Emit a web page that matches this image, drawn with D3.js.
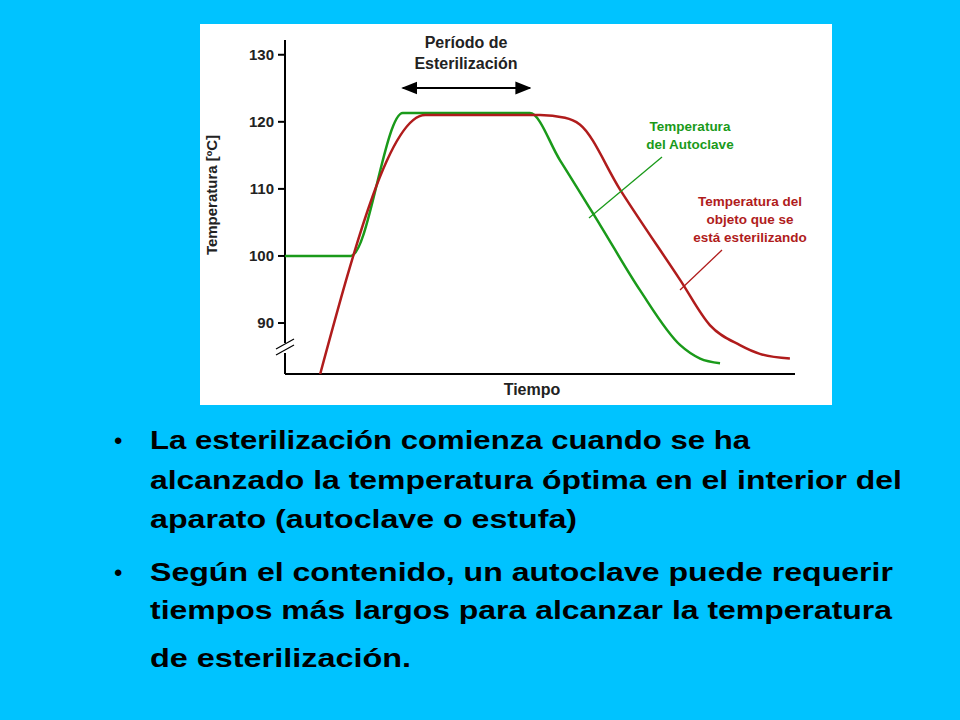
<!DOCTYPE html>
<html><head><meta charset="utf-8">
<script src="https://cdn.jsdelivr.net/npm/d3@7"></script>
<style>body{margin:0;background:#00c3ff}svg{display:block}</style>
</head><body>
<script>
const yTicks = [90, 100, 110, 120, 130]
const autoclave = [[0,100],[12.9,100],[23.1,121.3],[48,121.3],[53.9,114.3],[61.8,104.6],[69.6,94.9],[77.5,86.7],[81.4,84.7],[85.3,84.0]]
const objeto = [[6.9,82.4],[27.5,121],[50,121],[54.9,120.6],[57.8,119.6],[65.7,109.9],[77.5,96.4],[83.3,89.7],[89.2,86.7],[93.1,85.4],[99,84.7]]
const bullets = [
	['La esterilización comienza cuando se ha', 'alcanzado la temperatura óptima en el interior del', 'aparato (autoclave o estufa)'],
	['Según el contenido, un autoclave puede requerir', 'tiempos más largos para alcanzar la temperatura', 'de esterilización.']
]
const bulletWidths = [[600, 752, 427], [743, 742, 261]]

const svg = d3.select('body').append('svg').attr('width', 960).attr('height', 720)
	.style('font-family', 'Liberation Sans, Arial, sans-serif')
svg.append('rect').attr('width', 960).attr('height', 720).attr('fill', '#00c3ff')
svg.append('rect').attr('x', 200).attr('y', 24).attr('width', 632).attr('height', 381).attr('fill', '#fff')

const x = d3.scaleLinear().domain([0, 100]).range([285, 795])
const y = d3.scaleLinear().domain([82.4, 132.2]).range([374, 40])

svg.append('line').attr('x1', 285).attr('x2', 285).attr('y1', 40).attr('y2', 374).attr('stroke', '#000').attr('stroke-width', 2)
svg.append('line').attr('x1', 285).attr('x2', 795).attr('y1', 374).attr('y2', 374).attr('stroke', '#000').attr('stroke-width', 2)
yTicks.forEach(t => {
	svg.append('line').attr('x1', 278).attr('x2', 285).attr('y1', y(t)).attr('y2', y(t)).attr('stroke', '#000').attr('stroke-width', 2)
	svg.append('text').attr('x', 274).attr('y', y(t) + 5).attr('text-anchor', 'end')
		.attr('font-size', 15).attr('font-weight', 'bold').attr('fill', '#222').text(t)
})
svg.append('rect').attr('x', 280).attr('y', 343).attr('width', 10).attr('height', 10).attr('fill', '#fff')
;[343, 349].forEach(v => svg.append('line').attr('x1', 276).attr('x2', 294).attr('y1', v + 6).attr('y2', v - 4).attr('stroke', '#000').attr('stroke-width', 1.2))

svg.append('text').attr('transform', 'translate(217,195) rotate(-90)').attr('text-anchor', 'middle')
	.attr('font-size', 15).attr('font-weight', 'bold').attr('fill', '#222').text('Temperatura [ºC]')
svg.append('text').attr('x', 532).attr('y', 395).attr('text-anchor', 'middle')
	.attr('font-size', 16).attr('font-weight', 'bold').attr('fill', '#222').text('Tiempo')

const line = d3.line().x(d => x(d[0])).y(d => y(d[1])).curve(d3.curveMonotoneX)
svg.append('path').attr('d', line(autoclave)).attr('fill', 'none').attr('stroke', '#1a9a1a').attr('stroke-width', 2.5)
svg.append('path').attr('d', line(objeto)).attr('fill', 'none').attr('stroke', '#b01c1c').attr('stroke-width', 2.5)

const defs = svg.append('defs')
defs.append('marker').attr('id', 'ah').attr('viewBox', '0 0 10 10').attr('refX', 9).attr('refY', 5)
	.attr('markerWidth', 8).attr('markerHeight', 8).attr('orient', 'auto-start-reverse')
	.append('path').attr('d', 'M0,1L10,5L0,9Z').attr('fill', '#000')
svg.append('line').attr('x1', x(23.1)).attr('x2', x(48)).attr('y1', 88).attr('y2', 88).attr('stroke', '#000').attr('stroke-width', 2)
	.attr('marker-start', 'url(#ah)').attr('marker-end', 'url(#ah)')
;['Período de', 'Esterilización'].forEach((s, i) => svg.append('text').attr('x', 466).attr('y', 48 + i * 21)
	.attr('text-anchor', 'middle').attr('font-size', 16).attr('font-weight', 'bold').attr('fill', '#222').text(s))

;['Temperatura', 'del Autoclave'].forEach((s, i) => svg.append('text').attr('x', 690).attr('y', 131 + i * 18)
	.attr('text-anchor', 'middle').attr('font-size', 13.5).attr('font-weight', 'bold').attr('fill', '#1a9a1a').text(s))
svg.append('line').attr('x1', 662).attr('y1', 157).attr('x2', 589).attr('y2', 218).attr('stroke', '#1a9a1a').attr('stroke-width', 1.3)
;['Temperatura del', 'objeto que se', 'está esterilizando'].forEach((s, i) => svg.append('text').attr('x', 750).attr('y', 206 + i * 18)
	.attr('text-anchor', 'middle').attr('font-size', 13.5).attr('font-weight', 'bold').attr('fill', '#b01c1c').text(s))
svg.append('line').attr('x1', 722).attr('y1', 250).attr('x2', 680).attr('y2', 290).attr('stroke', '#b01c1c').attr('stroke-width', 1.3)

const lineY = [[449, 489, 528], [581, 619, 667]]
bullets.forEach((b, i) => {
	svg.append('text').attr('x', 114).attr('y', lineY[i][0]).attr('font-size', 24).attr('fill', '#000').text('•')
	b.forEach((s, j) => svg.append('text').attr('x', 150).attr('y', lineY[i][j])
		.attr('font-size', 25).attr('font-weight', 'bold').attr('fill', '#000')
		.attr('textLength', bulletWidths[i][j]).attr('lengthAdjust', 'spacingAndGlyphs').text(s))
})
</script>
</body></html>
